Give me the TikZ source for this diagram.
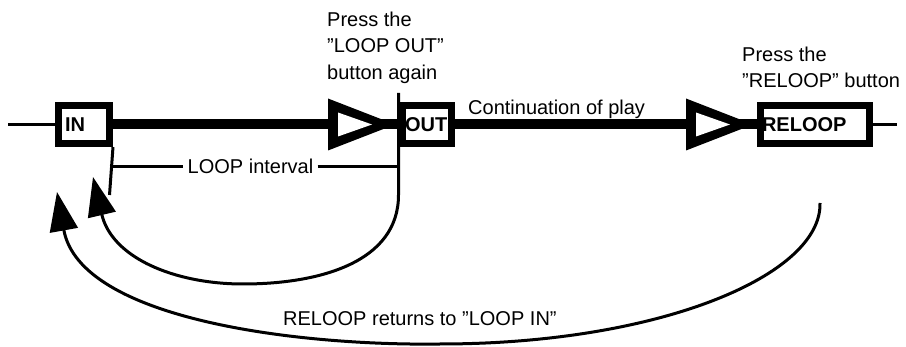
\documentclass[tikz,border=0pt]{standalone}
\usepackage{fontspec}
\setmainfont{Liberation Sans}[Ligatures=ResetAll]
\usetikzlibrary{arrows.meta,calc}
\newcommand\playtip[1]{%
  \begin{scope}[shift={(#1)}]
    \fill (-71,-26) -- (-4,0) -- (-71,26) -- cycle;
    \fill[white] (-61,-12) -- (-27,0) -- (-61,12) -- cycle;
  \end{scope}}
\begin{document}
\begin{tikzpicture}[x=1pt,y=-1pt,
  box/.style={draw, line width=7pt, minimum height=38pt, inner ysep=0pt,
    text height=14.3pt, text depth=0pt, align=left,
    font=\fontsize{20}{24}\selectfont\bfseries},
  fineline/.style={line width=3pt},
  mainline/.style={line width=10pt},
  lbl/.style={font=\fontsize{20}{26.5}\selectfont, inner sep=0pt},
  looparrow/.style={line width=3pt, -{Triangle[length=39pt,width=28pt]}}
]
\useasboundingbox (0,0) rectangle (906,347);

% boxes
\node[box, text width=38pt, inner xsep=6.5pt] (IN) at (84,124.5) {IN};
\node[box, text width=44pt, inner xsep=2.5pt] (OUT) at (427,124.5) {OUT};
\node[box, text width=106pt, inner xsep=1.5pt] (RELOOP) at (815,124.5) {RELOOP};

% free ends
\coordinate (lstart) at (8,124.5);
\coordinate (rend) at (897,124.5);
\coordinate (outtop) at (398.5,93);
\coordinate (outbend) at (398.5,195);
\coordinate (invb) at (109.5,195);
\coordinate (lia) at (109.5,166.5);
\coordinate (lib) at (398.5,166.5);
\coordinate (tipA) at (93,177);
\coordinate (relb) at (820,203);
\coordinate (tipB) at (57,192);

% play line
\draw[fineline] (lstart) -- (IN.west);
\draw[fineline] (RELOOP.east) -- (rend);
\draw[mainline] (IN.east) -- (OUT.west);
\draw[mainline] (OUT.east) -- (RELOOP.west);
\playtip{OUT.west}
\playtip{RELOOP.west}

% loop interval
\draw[fineline] (IN.south east) -- (invb);
\node[lbl, text height=14.3pt, text depth=0pt, inner xsep=4pt] (li) at (250.5,166.5) {LOOP interval};
\draw[fineline] (lia) -- (li.west);
\draw[fineline] (li.east) -- (lib);

% return arcs
\draw[looparrow] (outtop) -- (outbend)
  .. controls (398.5,262) and (320,284) .. (243,284)
  .. controls (175,284) and (112,258) .. (tipA);
\draw[looparrow] (relb)
  .. controls (822,275) and (660,344) .. (440,344)
  .. controls (300,346) and (80,320) .. (tipB);

% labels
\node[lbl, anchor=north west, align=left] (pressout) at (327,11.5) {Press the\\"LOOP OUT"\\button again};
\node[lbl, anchor=north west, align=left] (pressre) at (742,46.5) {Press the\\"RELOOP" button};
\node[lbl, anchor=base west] (cont) at (468,115) {Continuation of play};
\node[lbl, anchor=base west] (ret) at (283,326) {RELOOP returns to "LOOP IN"};
\end{tikzpicture}
\end{document}
